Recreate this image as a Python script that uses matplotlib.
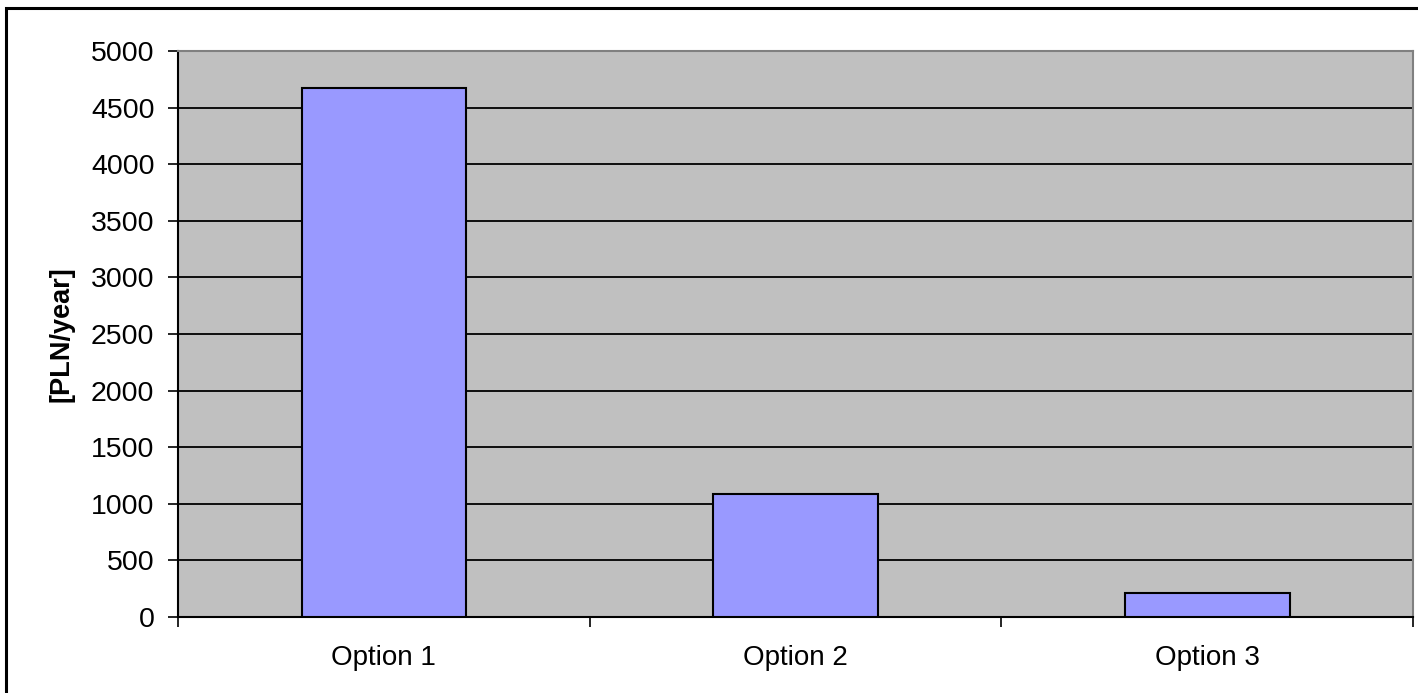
import matplotlib.pyplot as plt
from matplotlib.patches import Rectangle

plt.rcParams['font.family'] = ['Liberation Sans', 'DejaVu Sans']

categories = ['Option 1', 'Option 2', 'Option 3']
values = [4676, 1087, 215]

W, H = 1418, 693
fig = plt.figure(figsize=(W / 100, H / 100), dpi=100)

# outer chart border (right and bottom edges run past the image)
fig.patches.append(Rectangle((6 / W, -20 / H), 1440 / W, (H + 20 - 7.5) / H,
                             transform=fig.transFigure, fill=False,
                             edgecolor='black', linewidth=2.2))

ax = fig.add_axes([178 / W, 1 - 617 / H, (1413 - 178) / W, (617 - 51) / H])
ax.set_facecolor('#c0c0c0')

x = range(len(categories))
ax.bar(x, values, width=0.40, color='#9999ff', edgecolor='black', linewidth=1.5, zorder=3)

ax.set_xlim(-0.5, 2.5)
ax.set_ylim(0, 5000)
ax.set_yticks(range(0, 5001, 500))
ax.yaxis.grid(True, color='black', linewidth=1.3, zorder=1)
ax.set_axisbelow(True)

ax.set_xticks([-0.5, 0.5, 1.5, 2.5])
ax.set_xticklabels([])
ax.set_xticks(list(x), minor=True)
ax.set_xticklabels(categories, minor=True)
ax.tick_params(axis='x', which='minor', length=0, pad=20, labelsize=20)
ax.tick_params(axis='x', which='major', length=7, width=1.2, direction='out')
ax.tick_params(axis='y', length=7, width=1.2, direction='out', labelsize=20.5, pad=10)

ax.spines['left'].set_linewidth(1.5)
ax.spines['bottom'].set_linewidth(1.5)
ax.spines['top'].set_color('#808080')
ax.spines['top'].set_linewidth(1.5)
ax.spines['right'].set_color('#808080')
ax.spines['right'].set_linewidth(1.5)

ax.set_ylabel('[PLN/year]', fontweight='bold', fontsize=19.5)
ax.yaxis.set_label_coords(-(178 - 75) / 1235, 0.5)

fig.savefig('out.png', dpi=100)
